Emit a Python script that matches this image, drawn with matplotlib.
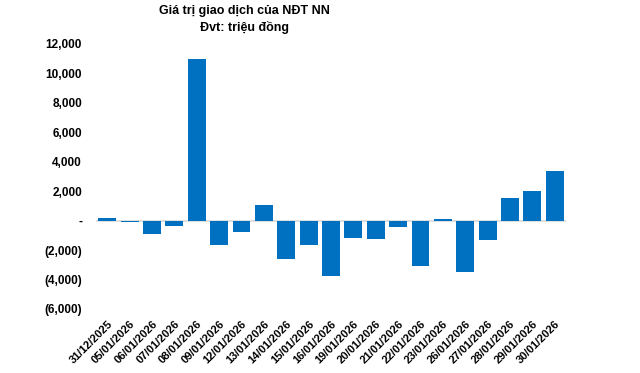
import matplotlib.pyplot as plt
from matplotlib.ticker import FuncFormatter

ngay = ["31/12/2025", "05/01/2026", "06/01/2026", "07/01/2026", "08/01/2026",
        "09/01/2026", "12/01/2026", "13/01/2026", "14/01/2026", "15/01/2026",
        "16/01/2026", "19/01/2026", "20/01/2026", "21/01/2026", "22/01/2026",
        "23/01/2026", "26/01/2026", "27/01/2026", "28/01/2026", "29/01/2026",
        "30/01/2026"]
gia_tri = [150, -100, -900, -360, 10950,
           -1650, -770, 1040, -2600, -1650,
           -3760, -1180, -1250, -430, -3080,
           90, -3490, -1310, 1520, 1990,
           3350]

plt.rcParams['font.family'] = ['Liberation Sans', 'DejaVu Sans']

fig = plt.figure(figsize=(6.4, 3.73), dpi=100)
ax = fig.add_axes([96 / 640, 1 - 309 / 373, 470 / 640, 265 / 373])

x = range(len(ngay))
ax.bar(x, gia_tri, width=0.8, color="#0070C0")
ax.axhline(0, color="#d9d9d9", lw=1.2, zorder=0)

ax.set_xlim(-0.5, len(ngay) - 0.5)
ax.set_ylim(-6000, 12000)
ax.set_yticks(range(-6000, 12001, 2000))


def dinh_dang(v, pos):
    if v == 0:
        return "-"
    if v < 0:
        return "({:,.0f})".format(-v)
    return "{:,.0f}".format(v)


ax.yaxis.set_major_formatter(FuncFormatter(dinh_dang))
ax.set_xticks(list(x))
ax.set_xticklabels(ngay, rotation=45, ha="right", rotation_mode="anchor",
                   fontsize=8, fontweight="bold")
for lb in ax.get_yticklabels():
    lb.set_fontweight("bold")
    lb.set_fontsize(8.5)
ax.tick_params(axis="both", length=0)
ax.tick_params(axis="y", pad=10)
ax.tick_params(axis="x", pad=7)
for s in ax.spines.values():
    s.set_visible(False)

tieu_de = dict(ha="center", va="center", fontsize=9, fontweight="bold")
fig.text(244 / 640, 1 - 11 / 373, "Giá trị giao dịch của NĐT NN", **tieu_de)
fig.text(244 / 640, 1 - 27 / 373, "Đvt: triệu đồng", **tieu_de)

fig.savefig("out.png", dpi=100)
